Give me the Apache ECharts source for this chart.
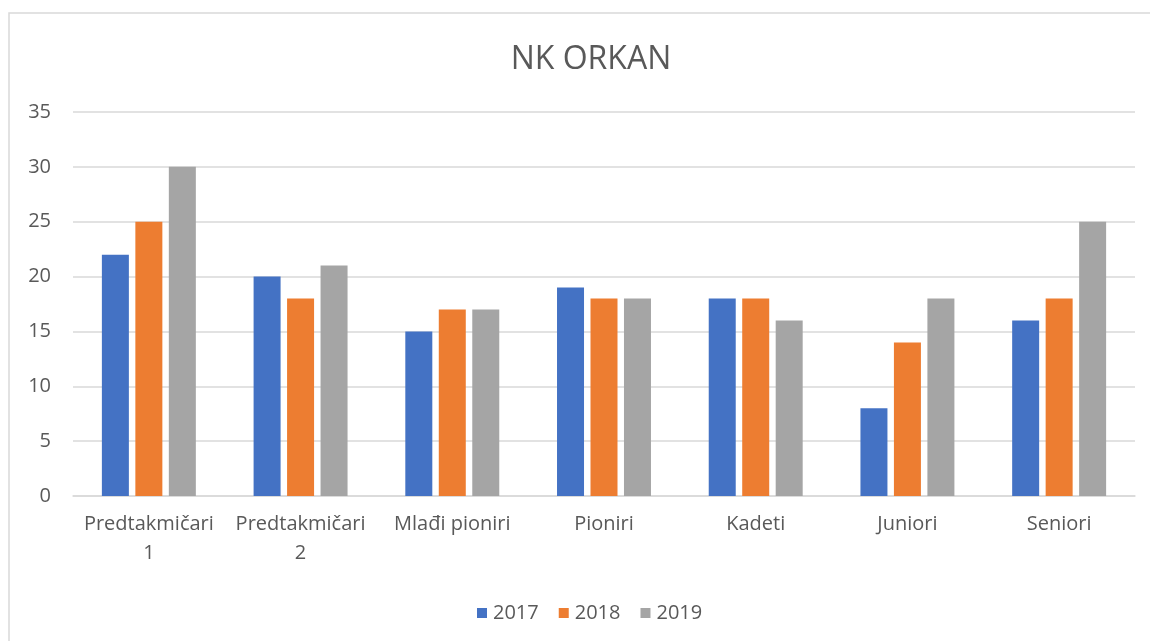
<!DOCTYPE html>
<html>
<head>
<meta charset="utf-8">
<script src="https://cdn.jsdelivr.net/npm/echarts@6/dist/echarts.min.js"></script>
<style>
html,body{margin:0;padding:0;background:#fff;}
#chart{width:1150px;height:641px;}
</style>
</head>
<body>
<div id="chart"></div>
<script>
const title = 'NK ORKAN';
const categories = ['Predtakmičari 1', 'Predtakmičari 2', 'Mlađi pioniri', 'Pioniri', 'Kadeti', 'Juniori', 'Seniori'];
const seriesNames = ['2017', '2018', '2019'];
const values2017 = [22, 20, 15, 19, 18, 8, 16];
const values2018 = [25, 18, 17, 18, 18, 14, 18];
const values2019 = [30, 21, 17, 18, 16, 18, 25];
const yTicks = [0, 5, 10, 15, 20, 25, 30, 35];

const colors = ['#4472C4', '#ED7D31', '#A5A5A5'];
const font = '"Open Sans", sans-serif';
const textColor = '#595959';

const chart = echarts.init(document.getElementById('chart'), null, {renderer: 'canvas'});
const allValues = [values2017, values2018, values2019];

chart.setOption({
  animation: false,
  backgroundColor: '#ffffff',
  color: colors,
  graphic: [{
    type: 'rect',
    shape: {x: 9, y: 13, width: 1300, height: 800},
    style: {fill: 'none', stroke: '#d9d9d9', lineWidth: 1.5},
    silent: true,
    z: -1
  }],
  title: {
    text: title,
    left: 586,
    top: 39,
    textAlign: 'center',
    textStyle: {fontFamily: font, fontSize: 32, fontWeight: 'normal', color: textColor}
  },
  legend: {
    data: seriesNames,
    left: 472,
    top: 598,
    itemWidth: 10,
    itemHeight: 10,
    itemGap: 20,
    icon: 'rect',
    textStyle: {fontFamily: font, fontSize: 20, color: textColor, padding: [0, 0, 0, 1]}
  },
  grid: {left: 73, right: 15, top: 112, bottom: 145, containLabel: false},
  xAxis: {
    type: 'category',
    data: categories,
    axisTick: {show: false},
    axisLine: {lineStyle: {color: '#d9d9d9', width: 1.5}},
    axisLabel: {
      fontFamily: font, fontSize: 20, color: textColor, margin: 14, lineHeight: 29,
      interval: 0,
      formatter: function (v) { return v.replace(/ (\d)$/, '\n$1'); }
    }
  },
  yAxis: {
    type: 'value',
    min: yTicks[0],
    max: yTicks[yTicks.length - 1],
    interval: yTicks[1] - yTicks[0],
    axisLine: {show: false},
    axisTick: {show: false},
    splitLine: {lineStyle: {color: '#d9d9d9', width: 1.5}},
    axisLabel: {fontFamily: font, fontSize: 20, color: textColor, margin: 22}
  },
  series: seriesNames.map((name, i) => ({
    name: name,
    type: 'bar',
    data: allValues[i],
    barWidth: 27,
    barGap: '24%',
    itemStyle: {color: colors[i]}
  }))
});
</script>
</body>
</html>
